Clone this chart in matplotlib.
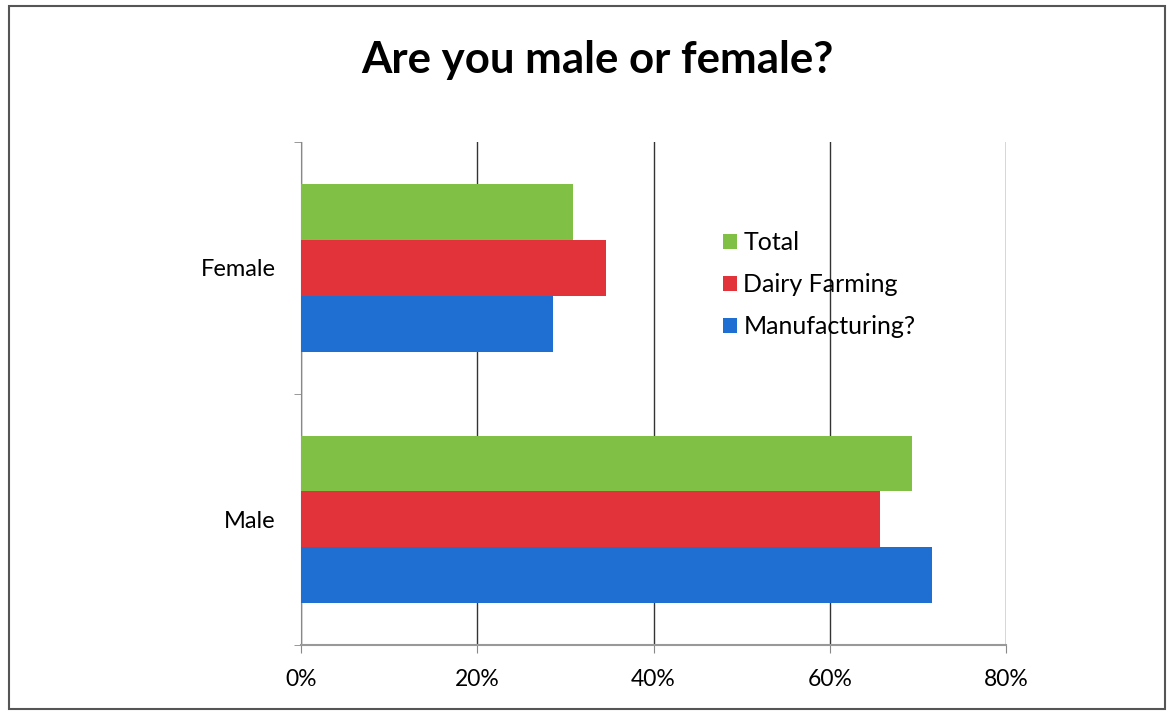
import matplotlib.pyplot as plt
import numpy as np
from matplotlib.patches import Rectangle

# Valores (percentual)
categorias = ["Male", "Female"]
series = ["Total", "Dairy Farming", "Manufacturing?"]
total = [69.3, 30.9]
dairy = [65.7, 34.6]
manufacturing = [71.6, 28.6]
cores = ["#80C045", "#E2323A", "#1F6FD2"]
x_ticks = [0, 20, 40, 60, 80]

plt.rcParams['font.family'] = ['Lato', 'DejaVu Sans']

fig = plt.figure(figsize=(11.72, 7.13), dpi=100)
ax = fig.add_axes([0.2568, 0.0954, 0.6016, 0.7054])

y = np.arange(len(categorias))
h = 0.222
valores = [total, dairy, manufacturing]
for i, (nome, vals, cor) in enumerate(zip(series, valores, cores)):
    ax.barh(y + (1 - i) * h, vals, height=h, color=cor, label=nome, zorder=3)

ax.set_xlim(0, 80)
ax.set_ylim(-0.5, 1.5)
ax.set_xticks(x_ticks)
ax.set_xticklabels([f"{v}%" for v in x_ticks], fontsize=16.5)
ax.set_yticks(y)
ax.set_yticklabels(categorias, fontsize=17)
ax.set_yticks([-0.5, 0.5, 1.5], minor=True)
ax.tick_params(axis='y', which='major', length=0, pad=18)
ax.tick_params(axis='y', which='minor', length=5, color='#888888')
ax.tick_params(axis='x', length=6, color='#888888', pad=11)
ax.xaxis.grid(True, color='#333333', linewidth=1, zorder=0)

for s in ['top', 'right']:
    ax.spines[s].set_visible(False)
ax.spines['left'].set_color('#888888')
ax.spines['bottom'].set_color('#999999')
ax.spines['bottom'].set_linewidth(1.5)

fig.text(0.51, 0.916, "Are you male or female?", ha='center', va='center',
         fontsize=31.5, fontweight='bold')

ax.legend(loc='upper left', bbox_to_anchor=(0.598, 0.707), bbox_transform=fig.transFigure,
          frameon=False, fontsize=18, handlelength=0.55, handleheight=0.55,
          handletextpad=0.25, labelspacing=0.75)

# moldura da figura
fig.patches.append(Rectangle((0.008, 0.006), 0.986, 0.986, transform=fig.transFigure,
                             fill=False, edgecolor='#555555', linewidth=1.5))

fig.savefig("out.png", dpi=100)
